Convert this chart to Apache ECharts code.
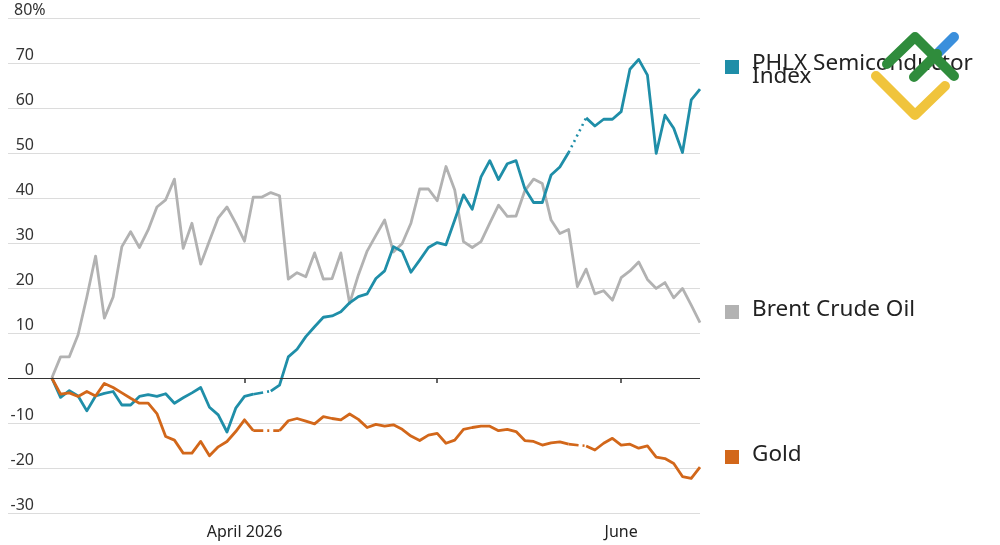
<!DOCTYPE html>
<html>
<head>
<meta charset="utf-8">
<script src="https://cdn.jsdelivr.net/npm/echarts@6/dist/echarts.min.js"></script>
<style>
html, body { margin: 0; padding: 0; background: #fff; }
#chart { width: 1000px; height: 545px; }
</style>
</head>
<body>
<div id="chart"></div>
<script>
// % change since 2 March 2026, one value per weekday (null = market closed)
var semis = [0, -4.3, -2.8, -4, -7.3, -4, -3.4, -3, -6, -6,
    -4.1, -3.7, -4.1, -3.5, -5.6, -4.4, -3.3, -2.1, -6.5, -8.2,
    -12, -6.7, -4.1, -3.6, null, -2.9, -1.6, 4.7, 6.4, 9.2,
    11.4, 13.5, 13.8, 14.7, 16.7, 18.1, 18.7, 22.1, 23.8, 29.2,
    28.1, 23.5, 26.2, 29, 30.1, 29.6, 35.1, 40.7, 37.5, 44.7,
    48.3, 44.1, 47.6, 48.3, 42.1, 39, 39, 45.1, 46.9, 50.1,
    null, 57.8, 56, 57.5, 57.5, 59.2, 68.6, 70.8, 67.3, 49.9,
    58.4, 55.5, 50.1, 61.8, 64.2];
var brent = [0, 4.7, 4.7, 9.6, 18, 27.1, 13.3, 18, 29.2, 32.5,
    29, 32.9, 38, 39.6, 44.2, 28.8, 34.4, 25.3, 30.5, 35.6,
    38, 34.4, 30.4, 40.2, 40.2, 41.2, 40.5, 22, 23.4, 22.5,
    27.8, 22, 22.1, 27.8, 16.6, 22.9, 28.2, 31.7, 35.1, 28,
    29.9, 34.4, 42, 42, 39.4, 47, 41.8, 30.3, 29, 30.3,
    34.4, 38.4, 35.9, 36, 41.6, 44.2, 43.2, 35.1, 32.1, 33,
    20.3, 24.2, 18.7, 19.4, 17.3, 22.3, 23.8, 25.8, 21.9, 19.9,
    21.2, 17.8, 19.9, 16.2, 12.3];
var gold = [0, -3.6, -3.3, -4.1, -3, -4, -1.2, -2.1, -3.3, -4.5,
    -5.6, -5.6, -7.9, -13, -13.8, -16.7, -16.7, -14.1, -17.3, -15.3,
    -14.1, -11.9, -9.3, -11.7, null, null, -11.7, -9.5, -9, -9.6,
    -10.2, -8.6, -9, -9.3, -8, -9.2, -11, -10.3, -10.7, -10.4,
    -11.4, -12.9, -13.9, -12.7, -12.3, -14.5, -13.8, -11.4, -11, -10.7,
    -10.7, -11.7, -11.4, -11.9, -13.9, -14.1, -14.9, -14.4, -14.2, -14.7,
    null, -15.1, -16, -14.5, -13.4, -14.9, -14.7, -15.6, -15.1, -17.6,
    -17.9, -19, -21.9, -22.3, -19.8];

var firstDay = '2026-02-23';   // axis starts one week before the data
var leadDays = 5;
var tickDates = ['2026-04-01', '2026-05-01', '2026-06-01'];
var tickLabels = ['April 2026', '', 'June'];

var blue = '#1f8ea8', grey = '#b2b2b2', orange = '#d2671a';

function weekdays(start, n) {
    var out = [];
    var d = new Date(start + 'T00:00:00Z');
    while (out.length < n) {
        var wd = d.getUTCDay();
        if (wd !== 0 && wd !== 6) out.push(d.toISOString().slice(0, 10));
        d.setUTCDate(d.getUTCDate() + 1);
    }
    return out;
}
var dates = weekdays(firstDay, leadDays + semis.length);

function pad(arr) {
    var out = [];
    for (var i = 0; i < leadDays; i++) out.push(null);
    return out.concat(arr);
}

// dashed bridge over every run of missing days
function gapSeries(arr, color, dashes) {
    var full = pad(arr), list = [], start = -1, k = 0;
    for (var i = 1; i < full.length; i++) {
        if (full[i] === null && full[i - 1] !== null) start = i - 1;
        if (full[i] !== null && full[i - 1] === null && start >= 0) {
            var d = full.map(function () { return null; });
            d[start] = full[start];
            d[i] = full[i];
            list.push({
                type: 'line', data: d, connectNulls: true, showSymbol: false,
                silent: true, z: 2,
                lineStyle: { color: color, width: 2.6, type: dashes[k++] || [10, 4, 2, 4] }
            });
            start = -1;
        }
    }
    return list;
}

function lineSeries(name, arr, color, z) {
    return {
        name: name, type: 'line', data: pad(arr), showSymbol: false,
        connectNulls: false, z: z,
        lineStyle: { color: color, width: 2.8, join: 'round' }
    };
}

var myChart = echarts.init(document.getElementById('chart'));

var brentLine = lineSeries('Brent Crude Oil', brent, grey, 2);
brentLine.markLine = {
    silent: true, symbol: 'none', label: { show: false },
    lineStyle: { color: '#333', type: 'solid', width: 1.2 },
    data: [{ yAxis: 0 }]
};

var series = [brentLine, lineSeries('PHLX Semiconductor Index', semis, blue, 3), lineSeries('Gold', gold, orange, 4)]
    .concat(gapSeries(semis, blue, [[10, 4, 2, 4], [2, 4]]))
    .concat(gapSeries(gold, orange, [[10, 4, 2, 4], [10, 4, 2, 4]]));

function legendItem(y, color, text, textY) {
    return [
        { type: 'rect', shape: { x: 725, y: y, width: 14, height: 14 }, style: { fill: color } },
        { type: 'text', x: 752, y: textY, style: {
            text: text, fontSize: 22.5, fontFamily: 'Noto Sans', fill: '#222',
            lineHeight: 13.5, verticalAlign: 'middle'
        } }
    ];
}

function stroke(points, color) {
    return { type: 'polyline', z: 100, shape: { points: points },
        style: { stroke: color, lineWidth: 10, lineCap: 'round', lineJoin: 'round', fill: null } };
}

var option = {
    animation: false,
    grid: { left: 8, right: 300, top: 18, bottom: 32, containLabel: false },
    xAxis: {
        type: 'category',
        data: dates,
        boundaryGap: false,
        axisLine: { show: false },
        axisTick: {
            show: true, length: 5,
            lineStyle: { color: '#333', width: 1.5 },
            interval: function (i, v) { return tickDates.indexOf(v) >= 0; }
        },
        axisLabel: {
            interval: function (i, v) { return tickDates.indexOf(v) >= 0; },
            formatter: function (v) { return tickLabels[tickDates.indexOf(v)] || ''; },
            color: '#222', fontSize: 16, fontFamily: 'Noto Sans', margin: 11
        },
        splitLine: { show: false }
    },
    yAxis: {
        type: 'value',
        min: -30, max: 80, interval: 10,
        axisLine: { show: false },
        axisTick: { show: false },
        splitLine: { lineStyle: { color: '#dcdcdc', width: 1 } },
        axisLabel: {
            inside: true, margin: 0, verticalAlign: 'bottom',
            color: '#333', fontSize: 16, fontFamily: 'Noto Sans',
            formatter: function (v) { return v === 80 ? '{q|80%}' : '{n|' + v + '}'; },
            rich: {
                n: { width: 26, align: 'right', fontSize: 16, fontFamily: 'Noto Sans', color: '#333' },
                q: { padding: [0, 0, 0, 6], fontSize: 16, fontFamily: 'Noto Sans', color: '#333' }
            }
        }
    },
    series: series,
    graphic: []
        .concat(legendItem(60, blue, 'PHLX Semiconductor\nIndex', 70))
        .concat(legendItem(305, grey, 'Brent Crude Oil', 309.5))
        .concat(legendItem(450, orange, 'Gold', 455))
        .concat([
            stroke([[876, 76], [915, 115], [945, 86]], '#f0c43c'),
            stroke([[937, 54], [954, 37]], '#3a8fdc'),
            stroke([[887, 64], [915, 37], [954, 76]], '#2f8c3c'),
            stroke([[914, 77], [937, 54]], '#2f8c3c')
        ])
};
myChart.setOption(option);
</script>
</body>
</html>
